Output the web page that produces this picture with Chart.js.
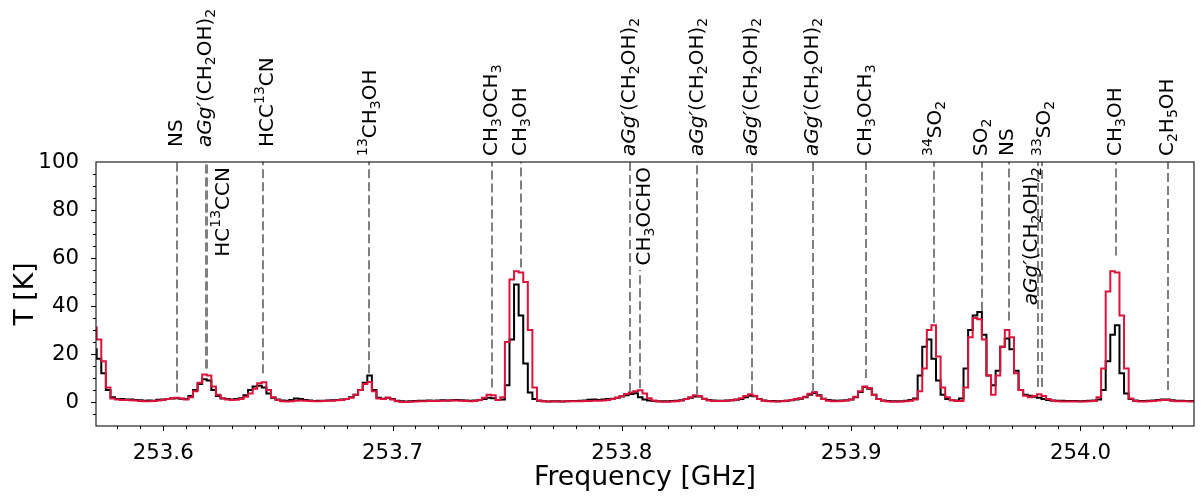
<!DOCTYPE html>
<html>
<head>
<meta charset="utf-8">
<script src="https://cdn.jsdelivr.net/npm/chart.js@4.4.1/dist/chart.umd.min.js"></script>
<style>
  html, body { margin: 0; padding: 0; background: #fff; }
  #wrap { width: 1201px; height: 496px; }
</style>
</head>
<body>
<div id="wrap"><canvas id="spec" width="1201" height="496"></canvas></div>
<script>
// channel grid of the spectra (GHz)
const chanStart = 253.570;
const chanWidth = 0.002;

// black spectrum, T [K] per channel
const blackK = [
  22, 18, 12, 5, 2, 1.3, 1.2, 1.0, 1.0, 0.8,
  0.7, 0.5, 0.6, 0.5, 0.9, 1.0, 1.2, 1.5, 1.6, 1.4,
  1.2, 2.5, 5.0, 7.5, 9.5, 9.0, 5.0, 2.5, 1.5, 1.2,
  1.0, 1.2, 1.6, 2.8, 5.0, 6.5, 6.8, 6.0, 3.5, 1.8,
  1.0, 0.6, 0.5, 0.8, 1.5, 1.2, 0.8, 0.6, 0.4, 0.5,
  0.5, 0.6, 0.7, 0.8, 1.0, 1.3, 2.0, 3.0, 5.0, 8.0,
  11.0, 5.0, 1.8, 1.4, 1.8, 1.2, 0.5, 0.3, 0.2, 0.3,
  0.4, 0.5, 0.5, 0.6, 0.5, 0.6, 0.7, 0.6, 0.7, 0.8,
  0.7, 0.6, 0.5, 0.6, 0.8, 1.2, 1.8, 1.6, 0.8, 1.0,
  7, 26, 49, 36, 16, 4, 1.2, 0.5, 0.3, 0.2,
  0.3, 0.3, 0.2, 0.3, 0.4, 0.4, 0.5, 0.6, 0.9, 1.0,
  0.8, 1.0, 1.2, 1.4, 1.8, 2.3, 2.8, 3.3, 3.6, 2.0,
  1.0, 0.6, 0.4, 0.3, 0.3, 0.3, 0.4, 0.5, 0.7, 1.2,
  1.8, 2.3, 2.3, 1.4, 0.8, 0.6, 0.5, 0.5, 0.6, 0.7,
  0.9, 1.3, 2.0, 2.6, 2.4, 1.2, 0.6, 0.4, 0.4, 0.3,
  0.4, 0.5, 0.7, 1.0, 1.4, 2.0, 3.0, 3.8, 2.8, 1.4,
  0.8, 0.6, 0.5, 0.6, 0.7, 1.0, 2.0, 4.2, 6.2, 5.5,
  3.0, 1.3, 0.6, 0.4, 0.3, 0.3, 0.3, 0.5, 0.8, 1.5,
  11, 23, 26, 18, 9, 3, 1.2, 0.7, 0.6, 1.5,
  14, 30, 36, 37.5, 28, 11, 7.0, 13, 23, 26.5,
  22, 13, 5, 3, 2.6, 2.2, 1.8, 1.2, 0.8, 0.6,
  0.5, 0.5, 0.4, 0.4, 0.4, 0.3, 0.4, 0.5, 0.6, 1.0,
  5, 17, 28, 32, 12, 3.5, 1.2, 0.6, 0.4, 0.4,
  0.5, 0.6, 0.8, 1.0, 1.0, 0.7, 0.5, 0.5, 0.4, 0.4,
  0.4
];

// red spectrum, T [K] per channel
const redK = [
  31, 26, 17, 6, 1.5, 1.0, 0.8, 0.8, 0.7, 0.6,
  0.4, 0.3, 0.3, 0.4, 0.6, 0.8, 1.2, 1.6, 1.8, 1.5,
  1.0, 2.0, 4.5, 8.0, 11.5, 11.0, 6.5, 3.0, 1.6, 1.0,
  0.8, 0.9, 1.3, 2.2, 3.5, 5.5, 7.8, 8.2, 5.0, 2.0,
  0.8, 0.3, 0.2, 0.3, 0.5, 0.6, 0.5, 0.4, 0.3, 0.3,
  0.4, 0.5, 0.5, 0.7, 0.8, 1.2, 1.8, 3.0, 5.0, 7.5,
  8.3, 4.5, 1.5, 1.2, 1.8, 1.0, 0.3, 0.0, 0.0, 0.1,
  0.2, 0.3, 0.3, 0.4, 0.4, 0.4, 0.5, 0.5, 0.6, 0.6,
  0.5, 0.4, 0.3, 0.4, 0.8, 1.8, 3.0, 2.8, 0.8, 2.0,
  25, 51, 54.5, 54, 50, 30, 6, 0.6, 0.3, 0.2,
  0.2, 0.2, 0.2, 0.3, 0.3, 0.3, 0.3, 0.4, 0.4, 0.5,
  0.5, 0.6, 0.8, 1.2, 1.8, 2.5, 3.3, 4.0, 4.5, 4.9,
  3.5, 1.6, 0.6, 0.2, 0.1, 0.1, 0.2, 0.3, 0.6, 1.2,
  2.0, 2.8, 2.5, 1.3, 0.6, 0.4, 0.4, 0.4, 0.5, 0.7,
  1.0, 1.6, 2.5, 3.2, 2.6, 1.2, 0.5, 0.3, 0.2, 0.2,
  0.3, 0.5, 0.8, 1.2, 1.6, 2.2, 3.4, 4.2, 2.6, 1.2,
  0.5, 0.3, 0.3, 0.4, 0.6, 1.0, 2.2, 4.5, 6.5, 5.8,
  3.0, 1.2, 0.5, 0.2, 0.1, 0.1, 0.2, 0.3, 0.5, 1.0,
  4.5, 14, 30, 32, 19, 6, 2, 0.8, 0.4, 0.4,
  6, 27, 35, 34.5, 26, 11, 3, 11, 23, 30,
  27, 12, 5, 2.6, 2.0, 2.5, 3.2, 2.5, 1.2, 0.5,
  0.3, 0.2, 0.2, 0.2, 0.2, 0.2, 0.2, 0.3, 0.4, 2.0,
  14, 46, 54.5, 54, 36, 14, 1.5, 0.4, 0.2, 0.2,
  0.3, 0.4, 0.6, 0.8, 0.8, 0.5, 0.3, 0.3, 0.3, 0.2,
  0.2
];

// identified lines: label, rest frequency (GHz), dashed marker from lineTop down to lineEnd (K)
const lineNames = [
  'NS', '*aGg′*(CH_{2}OH)_{2}', 'HC^{13}CCN', 'HCC^{13}CN', '^{13}CH_{3}OH',
  'CH_{3}OCH_{3}', 'CH_{3}OH', '*aGg′*(CH_{2}OH)_{2}', 'CH_{3}OCHO', '*aGg′*(CH_{2}OH)_{2}',
  '*aGg′*(CH_{2}OH)_{2}', '*aGg′*(CH_{2}OH)_{2}', 'CH_{3}OCH_{3}', '^{34}SO_{2}', 'SO_{2}',
  'NS', '*aGg′*(CH_{2}OH)_{2}', '^{33}SO_{2}', 'CH_{3}OH', 'C_{2}H_{5}OH'
];
const lineFreqs = [
  253.6061, 253.6185, 253.6192, 253.6436, 253.6896,
  253.7432, 253.7559, 253.8035, 253.8079, 253.8329,
  253.8566, 253.8832, 253.9065, 253.9361, 253.9569,
  253.9687, 253.9816, 253.9833, 254.0155, 254.0382
];
const lineTop = [
  100, 100, 100, 100, 100,
  100, 100, 100, 55, 100,
  100, 100, 100, 100, 100,
  100, 100, 100, 100, 100
];
const lineEnd = [
  4, 14, 14, 12, 12,
  6, 56, 4.2, 5.7, 2.8,
  3.6, 4.2, 10, 33, 38,
  34, 6.3, 6.3, 61, 5
];

// axes
const xRange = [253.5707, 254.0495];
const yRange = [-10, 100];
const xTicks = [253.6, 253.7, 253.8, 253.9, 254.0];
const yTicks = [0, 20, 40, 60, 80, 100];

const FONT = '"DejaVu Sans", sans-serif';

// label placement (px): above the frame, or inside it hanging from the top
const labelInside = { 2: 12, 8: 5, 16: -7 };   // index -> x shift of the text
const labelBottom = { 0: 147, 1: 147, 3: 147 }; // others sit at 156

function toXY(vals) {
  return vals.map((v, i) => ({ x: chanStart + i * chanWidth, y: v }));
}

function parseRich(s) {
  const segs = [];
  let italic = false, buf = '', i = 0;
  const push = (t, mode) => { if (t) segs.push({ t, mode, italic }); };
  while (i < s.length) {
    const c = s[i];
    if (c === '*') { push(buf, 'n'); buf = ''; italic = !italic; i++; }
    else if ((c === '_' || c === '^') && s[i + 1] === '{') {
      push(buf, 'n'); buf = '';
      const j = s.indexOf('}', i);
      push(s.slice(i + 2, j), c === '_' ? 'sub' : 'sup');
      i = j + 1;
    } else { buf += c; i++; }
  }
  push(buf, 'n');
  return segs;
}

function segFont(g) {
  return (g.italic ? 'italic ' : '') + g.fs + 'px ' + FONT;
}

function layoutRich(ctx, s, size) {
  const segs = parseRich(s);
  const plain = segs.every(g => g.mode === 'n' && !g.italic);
  let w = 0, asc = 0, desc = 0;
  segs.forEach(g => {
    g.fs = g.mode === 'n' ? size : size * 0.7;
    g.dy = g.mode === 'sub' ? size * 0.2 : g.mode === 'sup' ? -size * 0.45 : 0;
    ctx.font = segFont(g);
    const m = ctx.measureText(g.t);
    g.x = w;
    w += m.width;
    asc = Math.max(asc, m.actualBoundingBoxAscent - g.dy);
    desc = Math.max(desc, m.actualBoundingBoxDescent + g.dy);
  });
  if (plain) desc = Math.max(desc, size * 0.236);
  return { segs, w, asc, desc };
}

// text reads bottom-to-top, starting at screen y0, ink centred on cx
function drawUp(ctx, L, cx, y0) {
  ctx.save();
  ctx.translate(cx + (L.asc - L.desc) / 2, y0);
  ctx.rotate(-Math.PI / 2);
  ctx.textAlign = 'left';
  ctx.textBaseline = 'alphabetic';
  ctx.fillStyle = '#000';
  L.segs.forEach(g => { ctx.font = segFont(g); ctx.fillText(g.t, g.x, g.dy); });
  ctx.restore();
}

const overlay = {
  id: 'overlay',
  afterDatasetsDraw(chart) {
    const { ctx, scales: { x, y } } = chart;
    ctx.save();
    ctx.strokeStyle = '#808080';
    ctx.lineWidth = 2;
    ctx.setLineDash([9, 4]);
    lineFreqs.forEach((f, k) => {
      const px = Math.round(x.getPixelForValue(f));
      ctx.beginPath();
      ctx.moveTo(px, y.getPixelForValue(lineEnd[k]));
      ctx.lineTo(px, y.getPixelForValue(lineTop[k]));
      ctx.stroke();
    });
    ctx.restore();
  },
  afterDraw(chart) {
    const { ctx, chartArea: a, scales: { x, y } } = chart;
    ctx.save();
    // frame
    ctx.strokeStyle = '#222';
    ctx.lineWidth = 1.2;
    ctx.strokeRect(a.left, a.top, a.right - a.left, a.bottom - a.top);
    // tick marks
    ctx.strokeStyle = '#000';
    ctx.lineWidth = 1;
    ctx.beginPath();
    for (let k = 1; k <= 47; k++) {
      const v = 253.57 + k * 0.01;
      const major = xTicks.some(t => Math.abs(t - v) < 1e-6);
      const px = Math.round(x.getPixelForValue(v)) + 0.5;
      ctx.moveTo(px, a.bottom);
      ctx.lineTo(px, a.bottom + (major ? 5 : 3));
    }
    for (let v = -5; v < 100; v += 5) {
      const major = yTicks.includes(v);
      const py = Math.round(y.getPixelForValue(v)) + 0.5;
      ctx.moveTo(a.left, py);
      ctx.lineTo(a.left - (major ? 5 : 3), py);
    }
    ctx.stroke();
    // line labels
    lineNames.forEach((name, k) => {
      const L = layoutRich(ctx, name, 20);
      const px = x.getPixelForValue(lineFreqs[k]);
      if (k in labelInside) {
        drawUp(ctx, L, px + labelInside[k], a.top + 5 + L.w);
      } else {
        drawUp(ctx, L, px, k in labelBottom ? labelBottom[k] : 156);
      }
    });
    ctx.restore();
  }
};

new Chart(document.getElementById('spec'), {
  type: 'line',
  data: {
    datasets: [
      { label: 'red', data: toXY(redK), borderColor: 'crimson', borderWidth: 2,
        stepped: 'middle', pointRadius: 0, fill: false },
      { label: 'black', data: toXY(blackK), borderColor: '#000', borderWidth: 2,
        stepped: 'middle', pointRadius: 0, fill: false }
    ]
  },
  options: {
    responsive: false,
    animation: false,
    devicePixelRatio: 1,
    layout: { padding: { top: 162, right: 7, left: 0, bottom: 0 } },
    plugins: { legend: { display: false }, tooltip: { enabled: false } },
    scales: {
      x: {
        type: 'linear', min: xRange[0], max: xRange[1],
        grid: { display: false }, border: { display: false },
        afterBuildTicks: s => { s.ticks = xTicks.map(v => ({ value: v })); },
        afterFit: s => { s.height = 70; },
        ticks: { autoSkip: false, maxRotation: 0, padding: 7, color: '#000',
                 font: { family: FONT, size: 21.3 }, callback: v => Number(v).toFixed(1) },
        title: { display: true, text: 'Frequency [GHz]', color: '#000',
                 font: { family: FONT, size: 26.7 }, padding: { top: 0, bottom: 2 } }
      },
      y: {
        min: yRange[0], max: yRange[1],
        grid: { display: false }, border: { display: false },
        afterBuildTicks: s => { s.ticks = yTicks.map(v => ({ value: v })); },
        afterFit: s => { s.width = 96; },
        ticks: { padding: 9, color: '#000', font: { family: FONT, size: 21.3 },
                 callback: v => String(v) },
        title: { display: true, text: 'T [K]', color: '#000',
                 font: { family: FONT, size: 26.7 }, padding: { top: 10, bottom: 0 } }
      }
    }
  },
  plugins: [overlay]
});
</script>
</body>
</html>
